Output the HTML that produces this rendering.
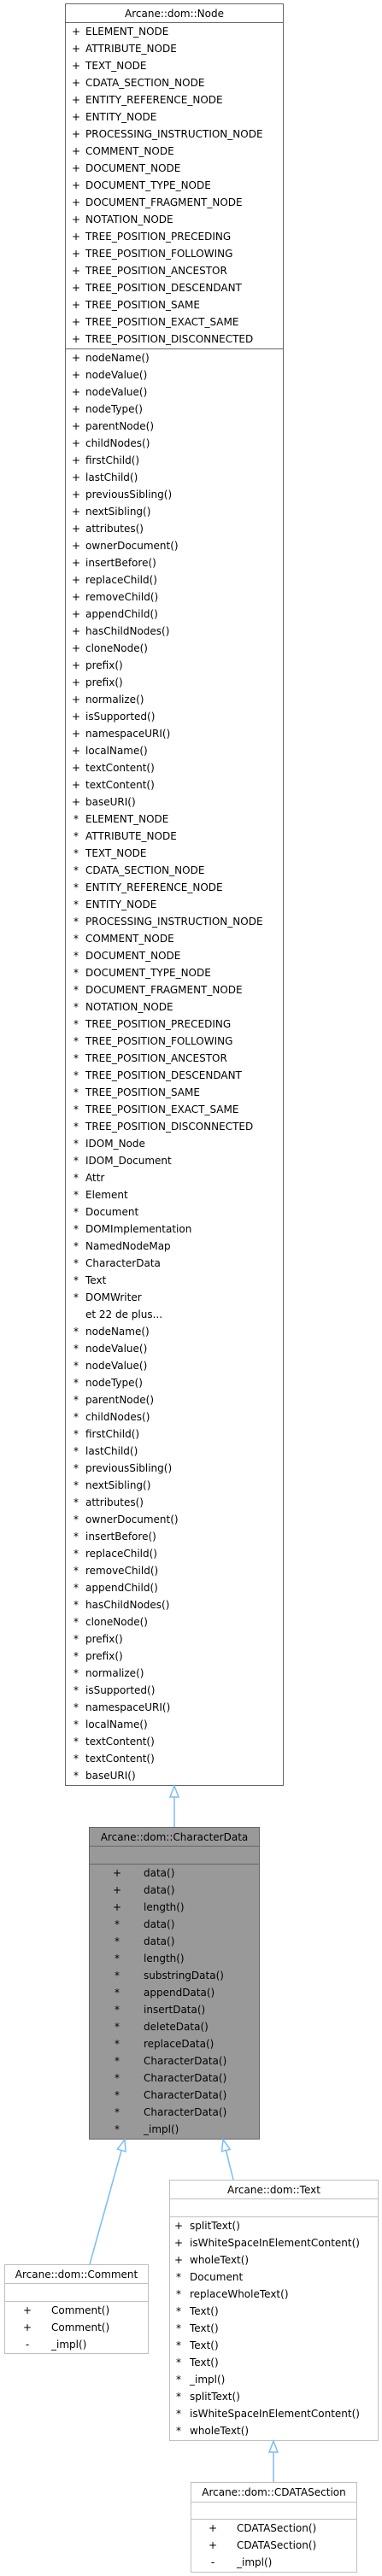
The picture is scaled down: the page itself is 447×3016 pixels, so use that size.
<!DOCTYPE html>
<html><head><meta charset="utf-8">
<style>
html,body{margin:0;padding:0;background:#fff;}
body{width:447px;height:3016px;position:relative;overflow:hidden;font-family:"DejaVu Sans","Liberation Sans",sans-serif;font-size:12px;color:#000;}
.box{position:absolute;box-sizing:border-box;border:1px solid #bfbfbf;background:#fff;}
.dark{border-color:#666;}
.gray{background:#999;border-color:#666;}
.t{position:absolute;left:0;right:0;text-align:center;line-height:22px;white-space:nowrap;}
.hl{position:absolute;left:0;right:0;height:0;border-top:1px solid #bfbfbf;}
.dark .hl,.gray .hl{border-color:#666;}
.rows{position:absolute;left:0;right:0;}
.r{height:20px;line-height:20px;white-space:nowrap;display:flex;}
.r i{font-style:normal;display:inline-block;width:10px;text-align:center;flex:none;}
svg{position:absolute;left:0;top:0;}
</style></head><body>

<!-- Node -->
<div class="box dark" style="left:76px;top:4px;width:256px;height:2087px;">
<div class="t" style="top:0">Arcane::dom::Node</div>
<div class="hl" style="top:21px"></div>
<div class="rows" style="top:22px;padding-left:7px;" id="n1">
<div class="r"><i>+</i><span style="margin-left:6px">ELEMENT_NODE</span></div>
<div class="r"><i>+</i><span style="margin-left:6px">ATTRIBUTE_NODE</span></div>
<div class="r"><i>+</i><span style="margin-left:6px">TEXT_NODE</span></div>
<div class="r"><i>+</i><span style="margin-left:6px">CDATA_SECTION_NODE</span></div>
<div class="r"><i>+</i><span style="margin-left:6px">ENTITY_REFERENCE_NODE</span></div>
<div class="r"><i>+</i><span style="margin-left:6px">ENTITY_NODE</span></div>
<div class="r"><i>+</i><span style="margin-left:6px">PROCESSING_INSTRUCTION_NODE</span></div>
<div class="r"><i>+</i><span style="margin-left:6px">COMMENT_NODE</span></div>
<div class="r"><i>+</i><span style="margin-left:6px">DOCUMENT_NODE</span></div>
<div class="r"><i>+</i><span style="margin-left:6px">DOCUMENT_TYPE_NODE</span></div>
<div class="r"><i>+</i><span style="margin-left:6px">DOCUMENT_FRAGMENT_NODE</span></div>
<div class="r"><i>+</i><span style="margin-left:6px">NOTATION_NODE</span></div>
<div class="r"><i>+</i><span style="margin-left:6px">TREE_POSITION_PRECEDING</span></div>
<div class="r"><i>+</i><span style="margin-left:6px">TREE_POSITION_FOLLOWING</span></div>
<div class="r"><i>+</i><span style="margin-left:6px">TREE_POSITION_ANCESTOR</span></div>
<div class="r"><i>+</i><span style="margin-left:6px">TREE_POSITION_DESCENDANT</span></div>
<div class="r"><i>+</i><span style="margin-left:6px">TREE_POSITION_SAME</span></div>
<div class="r"><i>+</i><span style="margin-left:6px">TREE_POSITION_EXACT_SAME</span></div>
<div class="r"><i>+</i><span style="margin-left:6px">TREE_POSITION_DISCONNECTED</span></div>
</div>
<div class="hl" style="top:403px"></div>
<div class="rows" style="top:404px;padding-left:7px;">
<div class="r"><i>+</i><span style="margin-left:6px">nodeName()</span></div>
<div class="r"><i>+</i><span style="margin-left:6px">nodeValue()</span></div>
<div class="r"><i>+</i><span style="margin-left:6px">nodeValue()</span></div>
<div class="r"><i>+</i><span style="margin-left:6px">nodeType()</span></div>
<div class="r"><i>+</i><span style="margin-left:6px">parentNode()</span></div>
<div class="r"><i>+</i><span style="margin-left:6px">childNodes()</span></div>
<div class="r"><i>+</i><span style="margin-left:6px">firstChild()</span></div>
<div class="r"><i>+</i><span style="margin-left:6px">lastChild()</span></div>
<div class="r"><i>+</i><span style="margin-left:6px">previousSibling()</span></div>
<div class="r"><i>+</i><span style="margin-left:6px">nextSibling()</span></div>
<div class="r"><i>+</i><span style="margin-left:6px">attributes()</span></div>
<div class="r"><i>+</i><span style="margin-left:6px">ownerDocument()</span></div>
<div class="r"><i>+</i><span style="margin-left:6px">insertBefore()</span></div>
<div class="r"><i>+</i><span style="margin-left:6px">replaceChild()</span></div>
<div class="r"><i>+</i><span style="margin-left:6px">removeChild()</span></div>
<div class="r"><i>+</i><span style="margin-left:6px">appendChild()</span></div>
<div class="r"><i>+</i><span style="margin-left:6px">hasChildNodes()</span></div>
<div class="r"><i>+</i><span style="margin-left:6px">cloneNode()</span></div>
<div class="r"><i>+</i><span style="margin-left:6px">prefix()</span></div>
<div class="r"><i>+</i><span style="margin-left:6px">prefix()</span></div>
<div class="r"><i>+</i><span style="margin-left:6px">normalize()</span></div>
<div class="r"><i>+</i><span style="margin-left:6px">isSupported()</span></div>
<div class="r"><i>+</i><span style="margin-left:6px">namespaceURI()</span></div>
<div class="r"><i>+</i><span style="margin-left:6px">localName()</span></div>
<div class="r"><i>+</i><span style="margin-left:6px">textContent()</span></div>
<div class="r"><i>+</i><span style="margin-left:6px">textContent()</span></div>
<div class="r"><i>+</i><span style="margin-left:6px">baseURI()</span></div>
<div class="r"><i>*</i><span style="margin-left:6px">ELEMENT_NODE</span></div>
<div class="r"><i>*</i><span style="margin-left:6px">ATTRIBUTE_NODE</span></div>
<div class="r"><i>*</i><span style="margin-left:6px">TEXT_NODE</span></div>
<div class="r"><i>*</i><span style="margin-left:6px">CDATA_SECTION_NODE</span></div>
<div class="r"><i>*</i><span style="margin-left:6px">ENTITY_REFERENCE_NODE</span></div>
<div class="r"><i>*</i><span style="margin-left:6px">ENTITY_NODE</span></div>
<div class="r"><i>*</i><span style="margin-left:6px">PROCESSING_INSTRUCTION_NODE</span></div>
<div class="r"><i>*</i><span style="margin-left:6px">COMMENT_NODE</span></div>
<div class="r"><i>*</i><span style="margin-left:6px">DOCUMENT_NODE</span></div>
<div class="r"><i>*</i><span style="margin-left:6px">DOCUMENT_TYPE_NODE</span></div>
<div class="r"><i>*</i><span style="margin-left:6px">DOCUMENT_FRAGMENT_NODE</span></div>
<div class="r"><i>*</i><span style="margin-left:6px">NOTATION_NODE</span></div>
<div class="r"><i>*</i><span style="margin-left:6px">TREE_POSITION_PRECEDING</span></div>
<div class="r"><i>*</i><span style="margin-left:6px">TREE_POSITION_FOLLOWING</span></div>
<div class="r"><i>*</i><span style="margin-left:6px">TREE_POSITION_ANCESTOR</span></div>
<div class="r"><i>*</i><span style="margin-left:6px">TREE_POSITION_DESCENDANT</span></div>
<div class="r"><i>*</i><span style="margin-left:6px">TREE_POSITION_SAME</span></div>
<div class="r"><i>*</i><span style="margin-left:6px">TREE_POSITION_EXACT_SAME</span></div>
<div class="r"><i>*</i><span style="margin-left:6px">TREE_POSITION_DISCONNECTED</span></div>
<div class="r"><i>*</i><span style="margin-left:6px">IDOM_Node</span></div>
<div class="r"><i>*</i><span style="margin-left:6px">IDOM_Document</span></div>
<div class="r"><i>*</i><span style="margin-left:6px">Attr</span></div>
<div class="r"><i>*</i><span style="margin-left:6px">Element</span></div>
<div class="r"><i>*</i><span style="margin-left:6px">Document</span></div>
<div class="r"><i>*</i><span style="margin-left:6px">DOMImplementation</span></div>
<div class="r"><i>*</i><span style="margin-left:6px">NamedNodeMap</span></div>
<div class="r"><i>*</i><span style="margin-left:6px">CharacterData</span></div>
<div class="r"><i>*</i><span style="margin-left:6px">Text</span></div>
<div class="r"><i>*</i><span style="margin-left:6px">DOMWriter</span></div>
<div class="r"><i></i><span style="margin-left:6px">et 22 de plus...</span></div>
<div class="r"><i>*</i><span style="margin-left:6px">nodeName()</span></div>
<div class="r"><i>*</i><span style="margin-left:6px">nodeValue()</span></div>
<div class="r"><i>*</i><span style="margin-left:6px">nodeValue()</span></div>
<div class="r"><i>*</i><span style="margin-left:6px">nodeType()</span></div>
<div class="r"><i>*</i><span style="margin-left:6px">parentNode()</span></div>
<div class="r"><i>*</i><span style="margin-left:6px">childNodes()</span></div>
<div class="r"><i>*</i><span style="margin-left:6px">firstChild()</span></div>
<div class="r"><i>*</i><span style="margin-left:6px">lastChild()</span></div>
<div class="r"><i>*</i><span style="margin-left:6px">previousSibling()</span></div>
<div class="r"><i>*</i><span style="margin-left:6px">nextSibling()</span></div>
<div class="r"><i>*</i><span style="margin-left:6px">attributes()</span></div>
<div class="r"><i>*</i><span style="margin-left:6px">ownerDocument()</span></div>
<div class="r"><i>*</i><span style="margin-left:6px">insertBefore()</span></div>
<div class="r"><i>*</i><span style="margin-left:6px">replaceChild()</span></div>
<div class="r"><i>*</i><span style="margin-left:6px">removeChild()</span></div>
<div class="r"><i>*</i><span style="margin-left:6px">appendChild()</span></div>
<div class="r"><i>*</i><span style="margin-left:6px">hasChildNodes()</span></div>
<div class="r"><i>*</i><span style="margin-left:6px">cloneNode()</span></div>
<div class="r"><i>*</i><span style="margin-left:6px">prefix()</span></div>
<div class="r"><i>*</i><span style="margin-left:6px">prefix()</span></div>
<div class="r"><i>*</i><span style="margin-left:6px">normalize()</span></div>
<div class="r"><i>*</i><span style="margin-left:6px">isSupported()</span></div>
<div class="r"><i>*</i><span style="margin-left:6px">namespaceURI()</span></div>
<div class="r"><i>*</i><span style="margin-left:6px">localName()</span></div>
<div class="r"><i>*</i><span style="margin-left:6px">textContent()</span></div>
<div class="r"><i>*</i><span style="margin-left:6px">textContent()</span></div>
<div class="r"><i>*</i><span style="margin-left:6px">baseURI()</span></div>
</div>
</div>

<!-- CharacterData -->
<div class="box gray" style="left:104px;top:2139px;width:200px;height:366px;">
<div class="t" style="top:0">Arcane::dom::CharacterData</div>
<div class="hl" style="top:21px"></div>
<div class="hl" style="top:42px"></div>
<div class="rows" style="top:43px;padding-left:27px;">
<div class="r"><i>+</i><span style="margin-left:26px">data()</span></div>
<div class="r"><i>+</i><span style="margin-left:26px">data()</span></div>
<div class="r"><i>+</i><span style="margin-left:26px">length()</span></div>
<div class="r"><i>*</i><span style="margin-left:26px">data()</span></div>
<div class="r"><i>*</i><span style="margin-left:26px">data()</span></div>
<div class="r"><i>*</i><span style="margin-left:26px">length()</span></div>
<div class="r"><i>*</i><span style="margin-left:26px">substringData()</span></div>
<div class="r"><i>*</i><span style="margin-left:26px">appendData()</span></div>
<div class="r"><i>*</i><span style="margin-left:26px">insertData()</span></div>
<div class="r"><i>*</i><span style="margin-left:26px">deleteData()</span></div>
<div class="r"><i>*</i><span style="margin-left:26px">replaceData()</span></div>
<div class="r"><i>*</i><span style="margin-left:26px">CharacterData()</span></div>
<div class="r"><i>*</i><span style="margin-left:26px">CharacterData()</span></div>
<div class="r"><i>*</i><span style="margin-left:26px">CharacterData()</span></div>
<div class="r"><i>*</i><span style="margin-left:26px">CharacterData()</span></div>
<div class="r"><i>*</i><span style="margin-left:26px">_impl()</span></div>
</div>
</div>

<!-- Comment -->
<div class="box" style="left:5px;top:2651px;width:169px;height:105px;">
<div class="t" style="top:0">Arcane::dom::Comment</div>
<div class="hl" style="top:21px"></div>
<div class="hl" style="top:42px"></div>
<div class="rows" style="top:43px;padding-left:21px;">
<div class="r"><i>+</i><span style="margin-left:23px">Comment()</span></div>
<div class="r"><i>+</i><span style="margin-left:23px">Comment()</span></div>
<div class="r"><i>-</i><span style="margin-left:23px">_impl()</span></div>
</div>
</div>

<!-- Text -->
<div class="box" style="left:198px;top:2552px;width:245px;height:306px;">
<div class="t" style="top:0">Arcane::dom::Text</div>
<div class="hl" style="top:21px"></div>
<div class="hl" style="top:42px"></div>
<div class="rows" style="top:43px;padding-left:5px;">
<div class="r"><i>+</i><span style="margin-left:8px">splitText()</span></div>
<div class="r"><i>+</i><span style="margin-left:8px">isWhiteSpaceInElementContent()</span></div>
<div class="r"><i>+</i><span style="margin-left:8px">wholeText()</span></div>
<div class="r"><i>*</i><span style="margin-left:8px">Document</span></div>
<div class="r"><i>*</i><span style="margin-left:8px">replaceWholeText()</span></div>
<div class="r"><i>*</i><span style="margin-left:8px">Text()</span></div>
<div class="r"><i>*</i><span style="margin-left:8px">Text()</span></div>
<div class="r"><i>*</i><span style="margin-left:8px">Text()</span></div>
<div class="r"><i>*</i><span style="margin-left:8px">Text()</span></div>
<div class="r"><i>*</i><span style="margin-left:8px">_impl()</span></div>
<div class="r"><i>*</i><span style="margin-left:8px">splitText()</span></div>
<div class="r"><i>*</i><span style="margin-left:8px">isWhiteSpaceInElementContent()</span></div>
<div class="r"><i>*</i><span style="margin-left:8px">wholeText()</span></div>
</div>
</div>

<!-- CDATASection -->
<div class="box" style="left:223px;top:2906px;width:195px;height:106px;">
<div class="t" style="top:0">Arcane::dom::CDATASection</div>
<div class="hl" style="top:22px"></div>
<div class="hl" style="top:42px"></div>
<div class="rows" style="top:43px;padding-left:20px;">
<div class="r"><i>+</i><span style="margin-left:23px">CDATASection()</span></div>
<div class="r"><i>+</i><span style="margin-left:23px">CDATASection()</span></div>
<div class="r"><i>-</i><span style="margin-left:23px">_impl()</span></div>
</div>
</div>

<svg width="447" height="3016" viewBox="0 0 447 3016">
<g stroke="#7bbcf7" stroke-width="1.5" fill="#fff">
<line x1="204" y1="2139" x2="204" y2="2104"/>
<polygon points="204,2091 199,2104 209,2104"/>
<line x1="105" y1="2651" x2="142" y2="2518"/>
<polygon points="146,2505 147,2519 137.4,2516.2"/>
<line x1="273" y1="2552" x2="264.4" y2="2517.6"/>
<polygon points="261,2505 269.2,2516.4 259.5,2518.8"/>
<line x1="320" y1="2906" x2="320" y2="2871"/>
<polygon points="320,2858 315,2871 325,2871"/>
</g>
</svg>
</body></html>
